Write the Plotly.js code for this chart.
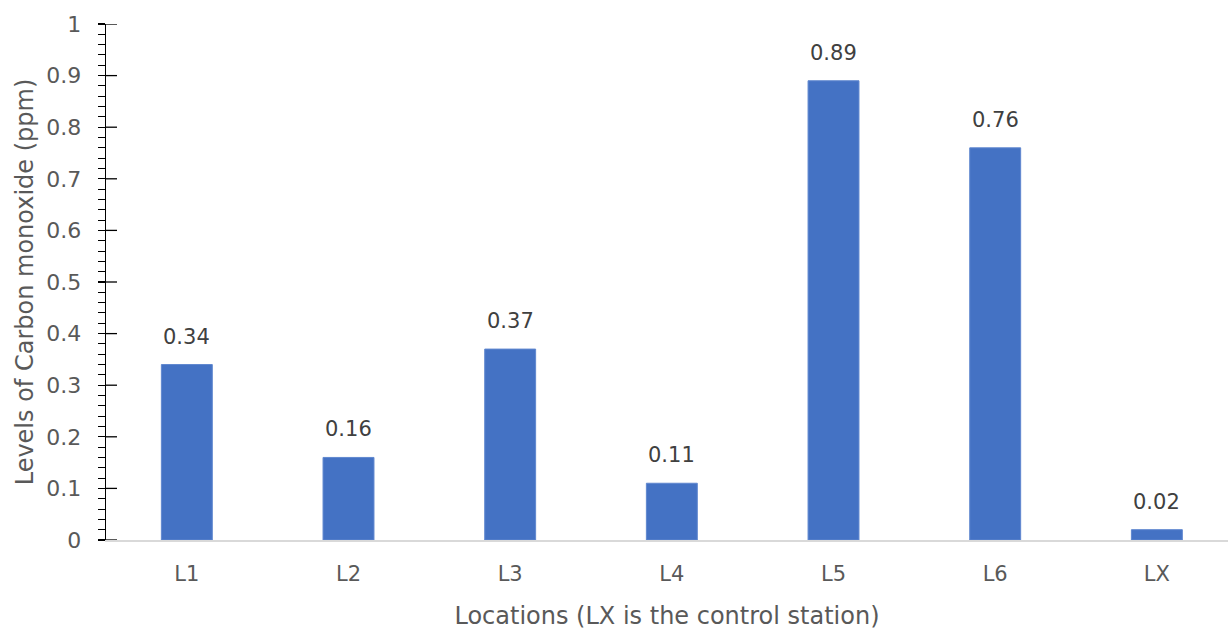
<!DOCTYPE html>
<html>
<head>
<meta charset="utf-8">
<script src="https://cdn.plot.ly/plotly-3.0.1.min.js"></script>
<style>html,body{margin:0;padding:0;background:#fff;}#chart{width:1228px;height:630px;}</style>
</head>
<body>
<div id="chart"></div>
<script>
const categories = ["L1", "L2", "L3", "L4", "L5", "L6", "LX"];
const coLevels = [0.34, 0.16, 0.37, 0.11, 0.89, 0.76, 0.02];
const valueLabels = ["0.34", "0.16", "0.37", "0.11", "0.89", "0.76", "0.02"];
const yTickVals = [0, 0.1, 0.2, 0.3, 0.4, 0.5, 0.6, 0.7, 0.8, 0.9, 1];
const yTickText = ["0", "0.1", "0.2", "0.3", "0.4", "0.5", "0.6", "0.7", "0.8", "0.9", "1"];

const FONT = "DejaVu Sans";
const trace = {
  type: "bar",
  x: categories,
  y: coLevels,
  marker: {color: "#4472C4", line: {color: "#5f87cf", width: 1}},
  hoverinfo: "skip"
};

const annotations = categories.map((c, i) => ({
  x: c, y: coLevels[i], xref: "x", yref: "y",
  text: valueLabels[i], showarrow: false,
  yanchor: "middle", yshift: 28,
  font: {family: FONT, size: 21, color: "#404040"}
}));

// inner half of the major tick marks (they cross the axis line)
const innerTicks = yTickVals.map(v => ({
  type: "line", layer: "above",
  xref: "paper", xsizemode: "pixel", xanchor: 0, x0: 0, x1: 11,
  yref: "y", y0: v, y1: v,
  line: {color: "#000000", width: 1.3}
}));

const layout = {
  width: 1228, height: 630,
  margin: {l: 106, r: 0, t: 24, b: 90},
  paper_bgcolor: "#ffffff", plot_bgcolor: "#ffffff",
  showlegend: false,
  bargap: 0.685,
  xaxis: {
    type: "category",
    range: [-0.5, 6.44],
    showgrid: false, zeroline: false,
    showline: true, linecolor: "#d9d9d9", linewidth: 1.5,
    ticks: "",
    ticklabelstandoff: 14,
    tickfont: {family: FONT, size: 21, color: "#595959"},
    title: {text: "Locations (LX is the control station)", standoff: 22,
            font: {family: FONT, size: 24, color: "#595959"}},
    automargin: false, fixedrange: true
  },
  yaxis: {
    range: [0, 1],
    tickvals: yTickVals, ticktext: yTickText,
    showgrid: false, zeroline: false,
    showline: true, linecolor: "#000000", linewidth: 1.3,
    ticks: "outside", ticklen: 7, tickcolor: "#000000", tickwidth: 1.3,
    minor: {dtick: 0.02, ticks: "outside", ticklen: 7, tickcolor: "#000000", tickwidth: 1, showgrid: false},
    ticklabelstandoff: 12,
    tickfont: {family: FONT, size: 22, color: "#595959"},
    title: {text: "Levels of Carbon monoxide (ppm)", standoff: 6,
            font: {family: FONT, size: 24, color: "#595959"}},
    automargin: false, fixedrange: true
  },
  shapes: innerTicks,
  annotations: annotations
};

Plotly.newPlot("chart", [trace], layout, {staticPlot: true, displayModeBar: false});
</script>
</body>
</html>
